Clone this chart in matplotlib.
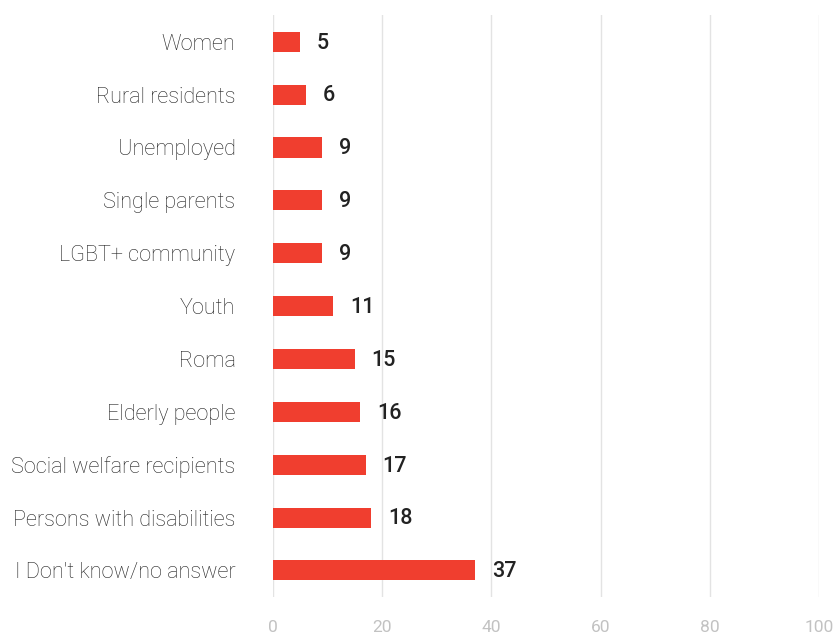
import matplotlib.pyplot as plt
from matplotlib import font_manager

categories = ['Women', 'Rural residents', 'Unemployed', 'Single parents', 'LGBT+ community',
              'Youth', 'Roma', 'Elderly people', 'Social welfare recipients',
              'Persons with disabilities', "I Don't know/no answer"]
values = [5, 6, 9, 9, 9, 11, 15, 16, 17, 18, 37]
x_ticks = [0, 20, 40, 60, 80, 100]

label_font = font_manager.FontProperties(family='Roboto', weight='light', size=15.6)
value_font = font_manager.FontProperties(family='Roboto', weight='medium', size=15.5)
tick_font = font_manager.FontProperties(family='Roboto', weight='normal', size=12.5)

fig = plt.figure(figsize=(8.35, 6.37), dpi=100)
ax = fig.add_axes([0.327, 0.063, 0.654, 0.913])

ypos = list(range(len(categories)))[::-1]
ax.barh(ypos, values, height=0.38, color='#f03e2f', zorder=3)

for y, v in zip(ypos, values):
    ax.annotate(str(v), (v, y), xytext=(12, -1), textcoords='offset points',
                va='center', ha='left', color='#222222', fontproperties=value_font)

ax.set_xlim(0, 100)
ax.set_ylim(-0.5, len(categories) - 0.5)
ax.set_xticks(x_ticks)
ax.set_yticks(ypos)
ax.set_yticklabels(categories, fontproperties=label_font, color='#222222')
for lab in ax.get_xticklabels():
    lab.set_fontproperties(tick_font)
    lab.set_color('#c2c2c2')
ax.tick_params(axis='y', length=0, pad=27)
ax.tick_params(axis='x', length=0, pad=17)
ax.grid(axis='x', color='#e3e3e3', linewidth=1, zorder=0)
for s in ax.spines.values():
    s.set_visible(False)

fig.savefig('out.png', dpi=100)
